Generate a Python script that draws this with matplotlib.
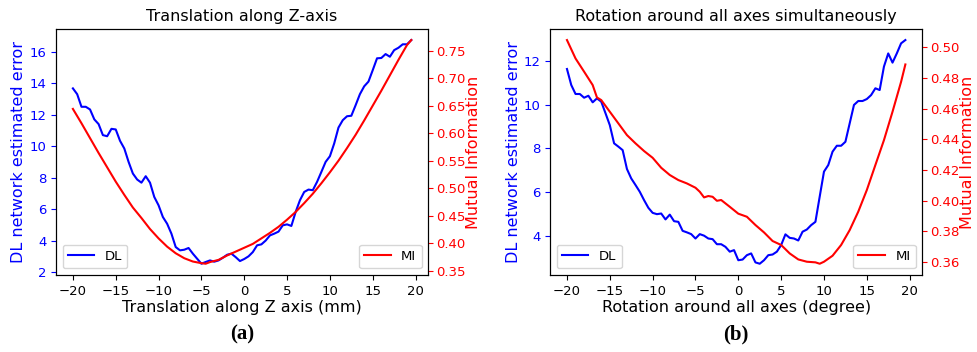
import matplotlib
matplotlib.use("Agg")
import matplotlib.pyplot as plt

# (a) translation along Z
trans_x = [-20 + 0.5 * i for i in range(80)]
trans_dl = [13.67, 13.3, 12.5, 12.5, 12.33, 11.7, 11.4, 10.7, 10.63, 11.1,
            11.06, 10.34, 9.85, 9.0, 8.26, 7.88, 7.68, 8.09, 7.68, 6.77,
            6.24, 5.5, 5.07, 4.44, 3.59, 3.38, 3.42, 3.53, 3.17, 2.85,
            2.53, 2.64, 2.74, 2.66, 2.74, 2.91, 3.1, 3.17, 2.95, 2.7,
            2.83, 3.0, 3.27, 3.7, 3.76, 4.0, 4.33, 4.44, 4.57, 4.97,
            5.03, 4.93, 5.82, 6.56, 7.09, 7.24, 7.2, 7.73, 8.36, 9.0,
            9.36, 10.17, 11.18, 11.65, 11.9, 11.93, 12.6, 13.3, 13.8, 14.1,
            14.83, 15.58, 15.6, 15.85, 15.68, 16.1, 16.25, 16.47, 16.47, 16.74]
trans_mi_x = [-20, -19, -18, -17, -16, -15, -14, -13, -12, -11, -10, -9, -8, -7,
              -6, -5, -4.5, -4, -3, -2, -1, 0, 1, 2, 3, 4, 5, 6, 7, 8, 9, 10,
              11, 12, 13, 14, 15, 16, 17, 18, 19, 19.5]
trans_mi = [0.644, 0.618, 0.591, 0.564, 0.538, 0.512, 0.488, 0.465, 0.446, 0.426,
            0.409, 0.394, 0.382, 0.373, 0.367, 0.364, 0.363, 0.366, 0.370, 0.378,
            0.385, 0.392, 0.399, 0.409, 0.419, 0.430, 0.443, 0.457, 0.473, 0.490,
            0.509, 0.529, 0.550, 0.573, 0.597, 0.623, 0.650, 0.677, 0.705, 0.733,
            0.760, 0.769]

# (b) rotation around all axes
rot_x = [-20 + 0.5 * i for i in range(80)]
rot_dl = [11.62, 10.89, 10.48, 10.48, 10.31, 10.4, 10.1, 10.28, 10.13, 9.6,
          9.06, 8.23, 8.08, 7.92, 7.06, 6.63, 6.33, 6.02, 5.64, 5.29,
          5.06, 5.0, 5.03, 4.76, 4.98, 4.68, 4.65, 4.24, 4.17, 4.09,
          3.89, 4.09, 4.02, 3.89, 3.86, 3.63, 3.63, 3.51, 3.29, 3.36,
          2.9, 2.93, 3.13, 3.21, 2.8, 2.74, 2.9, 3.13, 3.16, 3.29,
          3.59, 4.08, 3.92, 3.89, 3.8, 4.2, 4.3, 4.5, 4.65, 5.8,
          6.94, 7.24, 7.85, 8.12, 8.12, 8.3, 9.14, 9.98, 10.16, 10.16,
          10.25, 10.43, 10.74, 10.66, 11.73, 12.33, 11.91, 12.33, 12.79, 12.94]
rot_mi_x = [-20, -19, -18, -17, -16.5, -16, -15, -14, -13, -12, -11, -10, -9, -8,
            -7, -6, -5, -4.5, -4, -3.5, -3, -2.5, -2, -1, 0, 1, 2, 3, 4, 5, 6,
            7, 8, 9, 9.5, 10, 11, 12, 13, 14, 15, 16, 17, 18, 19, 19.5]
rot_mi = [0.5046, 0.4926, 0.484, 0.4753, 0.4672, 0.4655, 0.4579, 0.4503, 0.4427,
          0.4373, 0.4323, 0.4279, 0.4214, 0.4167, 0.4134, 0.4112, 0.4084, 0.4058,
          0.4021, 0.403, 0.4025, 0.3999, 0.4004, 0.396, 0.3915, 0.3895, 0.3841,
          0.3793, 0.3737, 0.3711, 0.3656, 0.3617, 0.3602, 0.3598, 0.3589, 0.3602,
          0.3641, 0.3711, 0.3808, 0.3928, 0.4069, 0.4232, 0.4394, 0.4579, 0.4774,
          0.4887]

panels = [
    ("Translation along Z-axis", "Translation along Z axis (mm)", "(a)",
     trans_x, trans_dl, trans_mi_x, trans_mi, 0.0573),
    ("Rotation around all axes simultaneously", "Rotation around all axes (degree)", "(b)",
     rot_x, rot_dl, rot_mi_x, rot_mi, 0.563),
]

fig = plt.figure(figsize=(9.77, 3.52), dpi=100)

for title, xlabel, tag, x, dl, mx, mi, left in panels:
    ax = fig.add_axes([left, 0.219, 0.381, 0.699])
    ax2 = ax.twinx()
    l1, = ax.plot(x, dl, color="b", lw=1.5, label="DL")
    l2, = ax2.plot(mx, mi, color="r", lw=1.5, label="MI")
    ax.set_xticks([-20, -15, -10, -5, 0, 5, 10, 15, 20])
    ax.set_title(title, fontsize=11.5)
    ax.set_xlabel(xlabel, fontsize=11.5, labelpad=2)
    ax.set_ylabel("DL network estimated error", color="b", fontsize=11.5, labelpad=2)
    ax2.set_ylabel("Mutual Information", color="r", fontsize=11.5, labelpad=0)
    ax.tick_params(axis="y", colors="b", labelsize=9.5)
    ax.tick_params(axis="x", labelsize=9.5)
    ax2.tick_params(axis="y", colors="r", labelsize=9.5, pad=2.5)
    ax.legend(handles=[l1], loc="lower left", fontsize=9.5)
    ax2.legend(handles=[l2], loc="lower right", fontsize=9.5)
    fig.text(left + 0.381 / 2, 0.05, tag, ha="center", va="center",
             fontsize=15, fontweight="bold", family="Liberation Serif")

fig.savefig("out.png", dpi=100)
